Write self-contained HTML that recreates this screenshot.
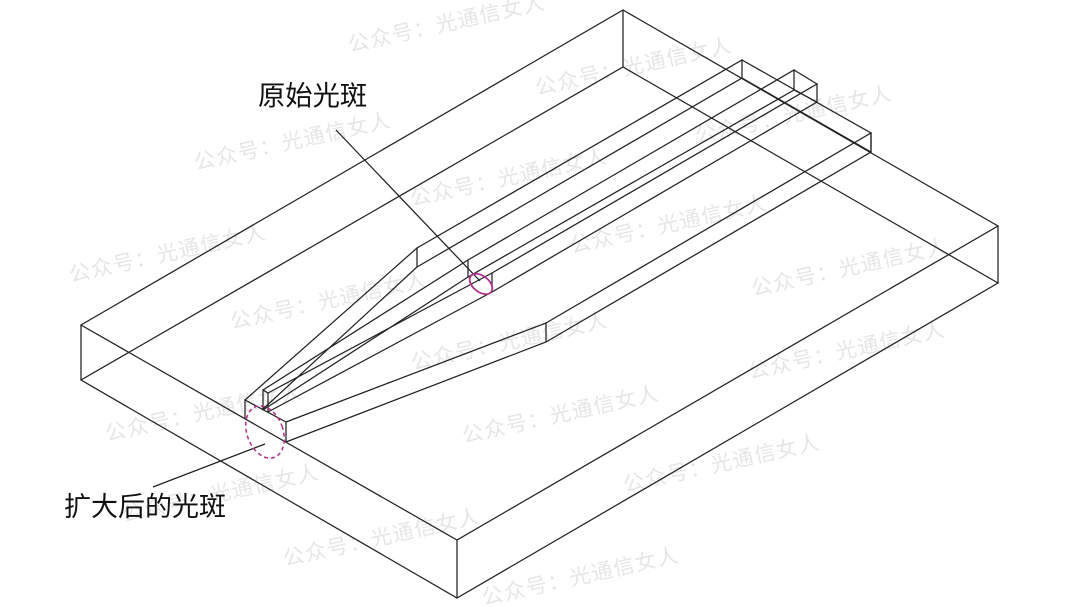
<!DOCTYPE html>
<html><head><meta charset="utf-8"><style>
html,body{margin:0;padding:0;background:#fff}
svg{display:block}
.w{font-family:"Liberation Sans","Noto Sans CJK SC",sans-serif;font-size:21px;fill:#e6e6e6}
.l{font-family:"Liberation Sans","Noto Sans CJK SC",sans-serif;font-size:27.3px;fill:#111}
</style></head><body>
<svg width="1080" height="607" viewBox="0 0 1080 607" xmlns="http://www.w3.org/2000/svg">
<g class="w">
<text transform="translate(350,52) rotate(-12.5)" textLength="200">公众号：光通信女人</text>
<text transform="translate(537,95) rotate(-12.5)" textLength="200">公众号：光通信女人</text>
<text transform="translate(697,143) rotate(-12.5)" textLength="200">公众号：光通信女人</text>
<text transform="translate(196,170) rotate(-12.5)" textLength="200">公众号：光通信女人</text>
<text transform="translate(412,206) rotate(-12.5)" textLength="200">公众号：光通信女人</text>
<text transform="translate(572,253) rotate(-12.5)" textLength="200">公众号：光通信女人</text>
<text transform="translate(71,282) rotate(-12.5)" textLength="200">公众号：光通信女人</text>
<text transform="translate(753,296) rotate(-12.5)" textLength="200">公众号：光通信女人</text>
<text transform="translate(232,329) rotate(-12.5)" textLength="200">公众号：光通信女人</text>
<text transform="translate(413,370) rotate(-12.5)" textLength="200">公众号：光通信女人</text>
<text transform="translate(750,379) rotate(-12.5)" textLength="200">公众号：光通信女人</text>
<text transform="translate(107,441) rotate(-12.5)" textLength="200">公众号：光通信女人</text>
<text transform="translate(464,443) rotate(-12.5)" textLength="200">公众号：光通信女人</text>
<text transform="translate(625,492) rotate(-12.5)" textLength="200">公众号：光通信女人</text>
<text transform="translate(124,522) rotate(-12.5)" textLength="200">公众号：光通信女人</text>
<text transform="translate(285,566) rotate(-12.5)" textLength="200">公众号：光通信女人</text>
<text transform="translate(484,605) rotate(-12.5)" textLength="200">公众号：光通信女人</text>
</g>
<g fill="none" stroke="#222" stroke-width="1.25">
<path d="M623 10L998 226L457 540L81 325Z"/>
<path d="M81 380L457 598L998 283L623 67Z"/>
<path d="M81 325V380M457 540V598M998 226V283M623 10V67"/>
<path d="M245 418V400L286 422V442"/>
<path d="M245 400L417 248V267L262 410"/>
<path d="M286 422L546 323V342L286 442"/>
<path d="M417 248L742 60V78L417 267"/>
<path d="M546 323L871 133V152L546 342"/>
<path d="M742 60L871 133V152L742 78"/>
<path d="M468 260L794 70V90L468 277Z"/>
<path d="M492 273L817 84V102L492 292Z"/>
<path d="M794 70L817 84M794 90L817 102"/>
<path d="M263 410V390L268 393V412"/>
<path d="M263 390L468 260M268 393L492 273"/>
<path d="M263 410L468 277M268 412L492 292"/>
<path d="M336 130L480 281"/>
<path d="M153 487L265 444"/>
</g>
<ellipse cx="481" cy="284" rx="13" ry="8" transform="rotate(38 481 284)" fill="none" stroke="#b0308a" stroke-width="1.8"/>
<ellipse cx="265" cy="432" rx="18" ry="27" transform="rotate(-20 265 432)" fill="none" stroke="#b0308a" stroke-width="1.5" stroke-dasharray="4 3"/>
<text class="l" x="258" y="105">原始光斑</text>
<text class="l" x="64" y="516" style="font-size:27px">扩大后的光斑</text>
</svg>
</body></html>
